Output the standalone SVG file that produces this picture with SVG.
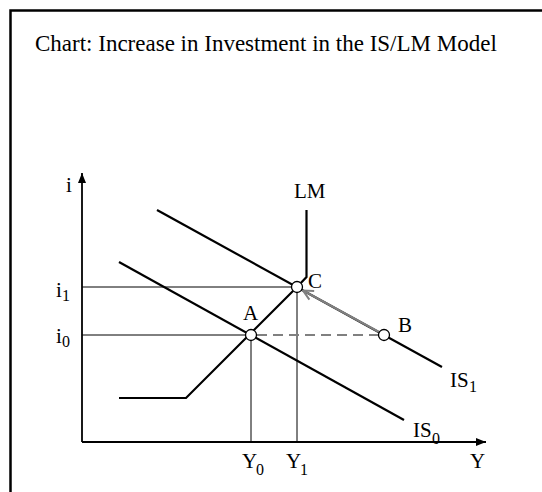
<svg xmlns="http://www.w3.org/2000/svg" width="542" height="492" viewBox="0 0 542 492">
<defs>
<style>
text{font-family:"Liberation Serif","Times New Roman",serif;fill:#000}
.lbl{font-size:21px}
.sub{font-size:16px}
.thin{stroke:#000;stroke-width:1;fill:none}
.curve{stroke:#000;stroke-width:2.2;fill:none}
.pt{fill:#fff;stroke:#000;stroke-width:1.3}
</style>
<marker id="ax" markerWidth="12" markerHeight="10" refX="10" refY="5" orient="auto" markerUnits="userSpaceOnUse">
<path d="M0,1 L10,5 L0,9 Z" fill="#000"/>
</marker>
<marker id="gr" markerWidth="14" markerHeight="14" refX="11" refY="7" orient="auto" markerUnits="userSpaceOnUse">
<path d="M1,2 L11,7 L1,12" fill="none" stroke="#808080" stroke-width="2"/>
</marker>
</defs>
<rect x="0" y="0" width="542" height="492" fill="#fff"/>
<path d="M10.5,492 L10.5,10.5 L542,10.5" fill="none" stroke="#000" stroke-width="2.5"/>
<text x="35" y="50.5" style="font-size:23px">Chart: Increase in Investment in the IS/LM Model</text>

<g id="connectors">
<line x1="82" y1="442" x2="82" y2="173" stroke="#000" stroke-width="1.8" marker-end="url(#ax)"/>
<line x1="82" y1="442" x2="486" y2="442" stroke="#000" stroke-width="1.8" marker-end="url(#ax)"/>
<line class="thin" x1="82" y1="287" x2="297" y2="287"/>
<line class="thin" x1="82" y1="335" x2="251" y2="335"/>
<line class="thin" x1="251" y1="335" x2="251" y2="442"/>
<line class="thin" x1="297" y1="287" x2="297" y2="442"/>
<path id="LM" class="curve" d="M119,398 L186,398 L297,287 L306.5,277 L306.5,210"/>
<line id="IS1" class="curve" x1="157" y1="210" x2="442" y2="367"/>
<line id="IS0" class="curve" x1="119" y1="262" x2="404" y2="420"/>
<line x1="257" y1="335" x2="378" y2="335" stroke="#808080" stroke-width="2" stroke-dasharray="10,6"/>
<line x1="379" y1="332" x2="303" y2="290.5" stroke="#808080" stroke-width="2" marker-end="url(#gr)"/>
</g>

<g id="A"><circle class="pt" cx="251" cy="335" r="5.5"/><text class="lbl" x="243" y="320">A</text></g>
<g id="C"><circle class="pt" cx="297" cy="287" r="5.5"/><text class="lbl" x="308" y="288">C</text></g>
<g id="B"><circle class="pt" cx="384" cy="335" r="5.5"/><text class="lbl" x="398" y="332">B</text></g>

<g id="labels">
<text class="lbl" x="66" y="192">i</text>
<text class="lbl" x="294" y="198">LM</text>
<text class="lbl" x="56" y="297">i</text><text class="sub" x="62" y="301">1</text>
<text class="lbl" x="56" y="343">i</text><text class="sub" x="62" y="347">0</text>
<text class="lbl" x="450" y="387">IS</text><text class="sub" x="469" y="392">1</text>
<text class="lbl" x="413" y="437">IS</text><text class="sub" x="432" y="444">0</text>
<text class="lbl" x="242" y="468">Y</text><text class="sub" x="256" y="475">0</text>
<text class="lbl" x="286" y="468">Y</text><text class="sub" x="300" y="475">1</text>
<text class="lbl" x="470" y="468">Y</text>
</g>
</svg>
